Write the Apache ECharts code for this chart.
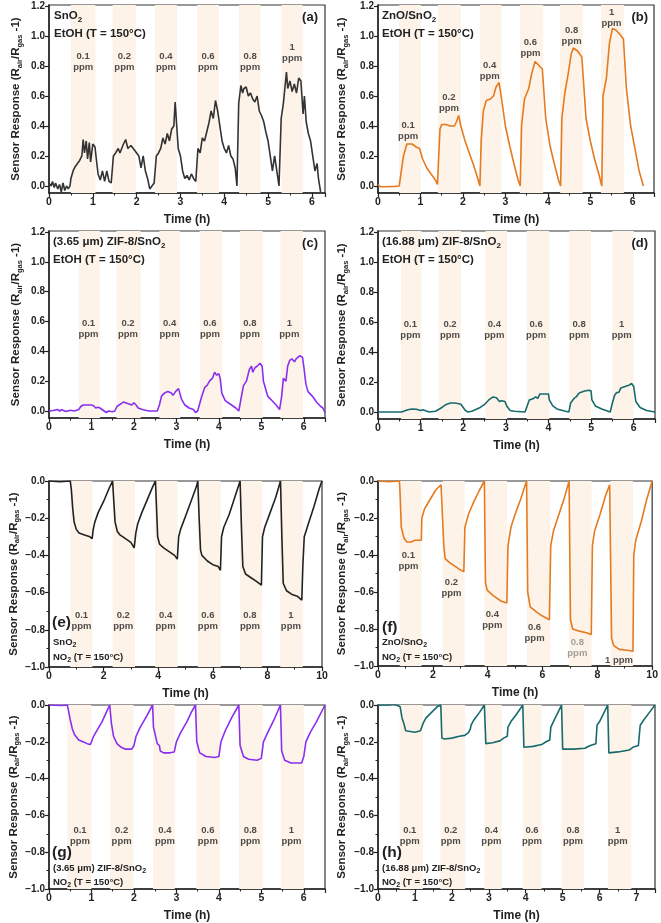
<!DOCTYPE html>
<html><head><meta charset="utf-8">
<script src="https://cdn.jsdelivr.net/npm/echarts@6/dist/echarts.min.js"></script>
<style>html,body{margin:0;padding:0;background:#fff}#c{width:661px;height:923px}</style>
</head><body><div id="c"></div>
<script>
// ---------- DATA ----------
const aData = [[0,0.02],[0.05,0.0],[0.08,0.03],[0.12,-0.01],[0.15,0.02],[0.2,-0.02],[0.24,0.01],[0.28,-0.04],[0.32,0.02],[0.36,-0.03],[0.4,0.0],[0.44,-0.02],[0.48,0.0],[0.5,0.05],[0.55,0.1],[0.6,0.13],[0.65,0.15],[0.7,0.17],[0.75,0.2],[0.78,0.31],[0.81,0.22],[0.85,0.3],[0.88,0.18],[0.92,0.29],[0.95,0.16],[1.0,0.28],[1.05,0.26],[1.08,0.18],[1.12,0.08],[1.17,0.04],[1.22,0.1],[1.27,0.03],[1.32,0.1],[1.37,0.03],[1.42,0.02],[1.47,0.2],[1.52,0.22],[1.58,0.25],[1.62,0.22],[1.7,0.28],[1.75,0.31],[1.8,0.25],[1.87,0.27],[1.95,0.24],[2.0,0.22],[2.05,0.2],[2.1,0.12],[2.15,0.2],[2.2,0.1],[2.25,0.05],[2.3,-0.02],[2.35,0.0],[2.4,0.02],[2.45,0.2],[2.5,0.22],[2.55,0.25],[2.6,0.32],[2.65,0.28],[2.7,0.35],[2.75,0.3],[2.8,0.38],[2.85,0.4],[2.88,0.56],[2.92,0.38],[2.95,0.25],[3.0,0.2],[3.05,0.1],[3.1,0.05],[3.15,0.07],[3.2,0.04],[3.25,0.08],[3.3,0.05],[3.35,0.03],[3.4,0.25],[3.45,0.22],[3.5,0.32],[3.55,0.3],[3.6,0.36],[3.65,0.42],[3.7,0.5],[3.75,0.45],[3.8,0.57],[3.85,0.5],[3.9,0.4],[3.95,0.3],[4.0,0.25],[4.05,0.22],[4.1,0.27],[4.15,0.2],[4.2,0.18],[4.25,0.12],[4.29,0.0],[4.33,0.55],[4.38,0.67],[4.42,0.62],[4.45,0.65],[4.5,0.66],[4.55,0.6],[4.6,0.62],[4.65,0.58],[4.7,0.56],[4.75,0.6],[4.8,0.5],[4.85,0.47],[4.9,0.43],[4.95,0.36],[5.0,0.3],[5.05,0.2],[5.1,0.1],[5.15,0.2],[5.2,0.1],[5.25,0.0],[5.3,0.45],[5.35,0.55],[5.42,0.76],[5.45,0.65],[5.5,0.7],[5.55,0.63],[5.6,0.68],[5.65,0.62],[5.7,0.72],[5.75,0.7],[5.8,0.48],[5.83,0.6],[5.87,0.43],[5.92,0.35],[5.97,0.3],[6.02,0.2],[6.07,0.1],[6.12,0.15],[6.15,0.05],[6.2,-0.04]];
const bData = [[0,0.01],[0.05,-0.005],[0.2,-0.005],[0.4,-0.003],[0.5,0.0],[0.55,0.1],[0.6,0.2],[0.68,0.28],[0.72,0.29],[0.8,0.28],[0.9,0.26],[0.98,0.25],[1.05,0.18],[1.15,0.12],[1.25,0.08],[1.35,0.04],[1.4,0.01],[1.43,0.2],[1.46,0.38],[1.5,0.41],[1.6,0.41],[1.7,0.4],[1.8,0.4],[1.85,0.43],[1.9,0.47],[1.95,0.4],[2.05,0.3],[2.15,0.22],[2.25,0.14],[2.35,0.05],[2.4,0.0],[2.43,0.3],[2.48,0.5],[2.55,0.57],[2.65,0.58],[2.72,0.6],[2.78,0.66],[2.85,0.69],[2.9,0.6],[3.0,0.4],[3.1,0.27],[3.2,0.15],[3.3,0.04],[3.35,0.0],[3.38,0.4],[3.45,0.58],[3.55,0.65],[3.62,0.75],[3.7,0.83],[3.8,0.8],[3.87,0.78],[3.95,0.45],[4.05,0.27],[4.15,0.15],[4.25,0.04],[4.3,0.0],[4.33,0.45],[4.4,0.62],[4.48,0.75],[4.55,0.88],[4.6,0.92],[4.7,0.9],[4.8,0.86],[4.9,0.45],[5.0,0.3],[5.1,0.18],[5.2,0.08],[5.27,0.0],[5.3,0.6],[5.38,0.72],[5.45,0.95],[5.52,1.05],[5.6,1.04],[5.7,1.01],[5.78,0.98],[5.85,0.65],[5.95,0.4],[6.05,0.25],[6.15,0.1],[6.25,0.0]];
const cData = [[0,0.0],[0.1,0.003],[0.2,0.01],[0.25,0.0],[0.3,0.008],[0.4,-0.003],[0.5,0.005],[0.6,0.0],[0.7,0.01],[0.75,0.03],[0.8,0.04],[0.9,0.04],[1.0,0.04],[1.05,0.035],[1.1,0.02],[1.15,0.025],[1.2,0.02],[1.25,0.01],[1.3,0.0],[1.35,-0.01],[1.4,0.0],[1.5,-0.005],[1.55,0.0],[1.6,0.03],[1.7,0.05],[1.75,0.06],[1.85,0.05],[1.95,0.04],[2.0,0.055],[2.05,0.04],[2.1,0.02],[2.2,0.01],[2.35,0.0],[2.55,0.0],[2.6,0.04],[2.65,0.1],[2.72,0.12],[2.8,0.13],[2.88,0.12],[2.92,0.105],[2.98,0.13],[3.05,0.15],[3.08,0.14],[3.12,0.08],[3.2,0.04],[3.3,0.02],[3.4,0.01],[3.45,-0.01],[3.5,0.0],[3.55,0.05],[3.6,0.1],[3.67,0.16],[3.72,0.17],[3.78,0.2],[3.85,0.22],[3.9,0.26],[3.95,0.24],[4.0,0.25],[4.03,0.22],[4.07,0.12],[4.15,0.07],[4.3,0.04],[4.4,0.02],[4.47,0.0],[4.52,0.08],[4.58,0.17],[4.65,0.2],[4.72,0.28],[4.77,0.3],[4.8,0.26],[4.85,0.29],[4.9,0.3],[4.97,0.32],[5.02,0.3],[5.05,0.2],[5.15,0.1],[5.25,0.07],[5.35,0.04],[5.43,0.01],[5.48,0.1],[5.52,0.22],[5.58,0.2],[5.62,0.3],[5.67,0.34],[5.72,0.35],[5.78,0.33],[5.82,0.35],[5.9,0.37],[5.97,0.36],[6.0,0.3],[6.05,0.18],[6.1,0.13],[6.2,0.1],[6.3,0.06],[6.4,0.03],[6.45,0.02],[6.5,-0.01]];
const dData = [[0,0.0],[0.3,0.0],[0.55,0.0],[0.6,0.005],[0.7,0.015],[0.8,0.02],[0.9,0.018],[1.0,0.01],[1.05,0.015],[1.1,0.01],[1.2,0.0],[1.35,0.005],[1.5,0.03],[1.6,0.05],[1.7,0.06],[1.8,0.06],[1.9,0.055],[1.95,0.05],[2.0,0.03],[2.05,0.01],[2.1,0.0],[2.2,0.005],[2.4,0.03],[2.5,0.05],[2.6,0.08],[2.7,0.1],[2.78,0.095],[2.85,0.07],[2.9,0.075],[2.98,0.07],[3.02,0.04],[3.1,0.01],[3.2,0.005],[3.45,0.0],[3.5,0.04],[3.55,0.08],[3.65,0.09],[3.7,0.1],[3.75,0.09],[3.8,0.12],[3.9,0.12],[4.0,0.12],[4.02,0.08],[4.1,0.04],[4.2,0.02],[4.4,0.005],[4.48,0.0],[4.52,0.06],[4.6,0.09],[4.65,0.1],[4.7,0.12],[4.75,0.13],[4.85,0.14],[4.95,0.145],[5.0,0.14],[5.02,0.08],[5.1,0.04],[5.25,0.02],[5.45,0.0],[5.5,0.06],[5.55,0.11],[5.6,0.13],[5.65,0.13],[5.7,0.16],[5.8,0.17],[5.9,0.18],[5.95,0.19],[6.0,0.17],[6.05,0.07],[6.15,0.03],[6.3,0.01],[6.5,0.0]];
const eData = [[0,0.0],[0.4,-0.004],[0.78,0.0],[0.82,-0.05],[0.87,-0.15],[0.92,-0.22],[1.0,-0.26],[1.1,-0.28],[1.3,-0.29],[1.5,-0.3],[1.58,-0.31],[1.62,-0.26],[1.68,-0.22],[1.8,-0.17],[2.0,-0.11],[2.2,-0.04],[2.33,0.0],[2.37,-0.1],[2.42,-0.22],[2.5,-0.27],[2.6,-0.29],[2.8,-0.31],[3.0,-0.33],[3.12,-0.36],[3.18,-0.28],[3.25,-0.23],[3.4,-0.17],[3.6,-0.1],[3.8,-0.03],[3.9,0.0],[3.94,-0.15],[3.98,-0.3],[4.05,-0.34],[4.2,-0.36],[4.4,-0.38],[4.6,-0.4],[4.7,-0.42],[4.75,-0.3],[4.82,-0.26],[5.0,-0.19],[5.2,-0.11],[5.4,-0.03],[5.45,0.0],[5.5,-0.2],[5.55,-0.37],[5.6,-0.4],[5.8,-0.43],[6.0,-0.45],[6.2,-0.46],[6.28,-0.48],[6.32,-0.3],[6.4,-0.25],[6.6,-0.18],[6.8,-0.09],[7.0,0.0],[7.05,-0.25],[7.1,-0.46],[7.2,-0.5],[7.4,-0.52],[7.6,-0.54],[7.78,-0.56],[7.82,-0.3],[7.9,-0.25],[8.1,-0.17],[8.3,-0.09],[8.48,0.0],[8.53,-0.3],[8.58,-0.55],[8.7,-0.59],[8.9,-0.61],[9.1,-0.62],[9.26,-0.64],[9.3,-0.45],[9.35,-0.3],[9.5,-0.23],[9.7,-0.14],[9.9,-0.04],[10.0,0.0]];
const fData = [[0,0.0],[0.4,-0.004],[0.78,0.0],[0.8,-0.05],[0.85,-0.25],[0.95,-0.31],[1.05,-0.33],[1.2,-0.33],[1.35,-0.32],[1.58,-0.32],[1.6,-0.2],[1.7,-0.15],[1.9,-0.1],[2.1,-0.05],[2.3,-0.02],[2.36,-0.01],[2.4,-0.35],[2.45,-0.42],[2.6,-0.44],[2.8,-0.46],[3.0,-0.48],[3.13,-0.49],[3.17,-0.25],[3.3,-0.18],[3.5,-0.11],[3.7,-0.05],[3.88,0.0],[3.92,-0.55],[3.98,-0.59],[4.2,-0.62],[4.5,-0.65],[4.7,-0.66],[4.74,-0.35],[4.85,-0.25],[5.0,-0.18],[5.2,-0.1],[5.42,0.0],[5.46,-0.6],[5.55,-0.68],[5.8,-0.71],[6.0,-0.73],[6.25,-0.75],[6.3,-0.35],[6.4,-0.27],[6.6,-0.18],[6.8,-0.09],[6.97,0.0],[7.02,-0.75],[7.1,-0.8],[7.3,-0.81],[7.6,-0.82],[7.78,-0.83],[7.82,-0.35],[7.9,-0.27],[8.1,-0.18],[8.3,-0.08],[8.45,-0.02],[8.5,-0.01],[8.52,-0.85],[8.6,-0.89],[8.8,-0.91],[9.1,-0.915],[9.3,-0.92],[9.33,-0.4],[9.4,-0.32],[9.6,-0.22],[9.8,-0.1],[10.0,0.0]];
const gData = [[0,0.0],[0.3,-0.003],[0.43,0.0],[0.45,-0.02],[0.5,-0.08],[0.55,-0.13],[0.6,-0.16],[0.7,-0.19],[0.8,-0.2],[0.9,-0.21],[0.97,-0.215],[1.0,-0.2],[1.05,-0.17],[1.15,-0.13],[1.25,-0.09],[1.35,-0.04],[1.43,0.0],[1.47,-0.1],[1.52,-0.17],[1.6,-0.21],[1.7,-0.23],[1.8,-0.24],[1.95,-0.24],[2.0,-0.22],[2.05,-0.17],[2.15,-0.12],[2.3,-0.06],[2.44,0.0],[2.46,-0.12],[2.52,-0.18],[2.55,-0.21],[2.6,-0.22],[2.62,-0.25],[2.7,-0.26],[2.85,-0.26],[2.95,-0.255],[3.0,-0.2],[3.1,-0.15],[3.25,-0.09],[3.35,-0.04],[3.45,0.0],[3.48,-0.2],[3.55,-0.26],[3.7,-0.28],[3.9,-0.285],[4.0,-0.28],[4.05,-0.2],[4.15,-0.14],[4.3,-0.07],[4.47,0.0],[4.5,-0.22],[4.58,-0.28],[4.7,-0.295],[4.9,-0.3],[5.0,-0.29],[5.05,-0.2],[5.15,-0.15],[5.3,-0.08],[5.45,0.0],[5.48,-0.25],[5.55,-0.3],[5.7,-0.315],[5.95,-0.315],[6.0,-0.28],[6.05,-0.2],[6.15,-0.15],[6.3,-0.09],[6.5,0.0]];
const hData = [[0,0.0],[0.3,0.0],[0.4,0.005],[0.5,0.0],[0.6,-0.01],[0.65,-0.07],[0.7,-0.1],[0.75,-0.14],[0.8,-0.15],[1.0,-0.148],[1.15,-0.14],[1.2,-0.13],[1.22,-0.1],[1.3,-0.07],[1.45,-0.04],[1.6,-0.01],[1.7,0.0],[1.73,-0.18],[1.8,-0.185],[2.0,-0.18],[2.2,-0.17],[2.35,-0.165],[2.45,-0.15],[2.5,-0.13],[2.52,-0.11],[2.6,-0.08],[2.75,-0.04],[2.88,0.0],[2.92,-0.21],[3.1,-0.205],[3.3,-0.195],[3.4,-0.18],[3.5,-0.17],[3.52,-0.12],[3.6,-0.09],[3.75,-0.05],[3.92,0.0],[3.95,-0.23],[4.2,-0.225],[4.43,-0.215],[4.55,-0.2],[4.65,-0.19],[4.68,-0.12],[4.75,-0.09],[4.85,-0.05],[4.97,0.0],[5.0,-0.24],[5.3,-0.24],[5.6,-0.235],[5.75,-0.22],[5.9,-0.21],[5.93,-0.11],[6.0,-0.09],[6.1,-0.05],[6.22,0.0],[6.25,-0.26],[6.5,-0.255],[6.8,-0.245],[6.9,-0.23],[7.05,-0.22],[7.1,-0.11],[7.2,-0.08],[7.35,-0.04],[7.5,0.0]];

// gas-exposure bands (start, end in h)
const aBands = [[0.5,1.06],[1.45,1.98],[2.42,2.92],[3.38,3.88],[4.34,4.83],[5.31,5.79]];
const bBands = [[0.5,1.01],[1.41,1.95],[2.4,2.91],[3.34,3.89],[4.29,4.82],[5.25,5.79]];
const cBands = [[0.7,1.2],[1.59,2.16],[2.6,3.09],[3.55,4.08],[4.5,5.03],[5.45,5.98]];
const dBands = [[0.54,1.02],[1.42,1.95],[2.52,3.03],[3.49,4.02],[4.49,5.0],[5.5,6.0]];
const eBands = [[0.78,1.59],[2.33,3.15],[3.89,4.71],[5.45,6.29],[7.0,7.8],[8.47,9.29]];
const fBands = [[0.79,1.59],[2.36,3.16],[3.89,4.71],[5.43,6.28],[6.97,7.79],[8.48,9.3]];
const gBands = [[0.43,1.0],[1.44,1.99],[2.45,2.96],[3.47,4.03],[4.48,5.03],[5.46,6.0]];
const hBands = [[0.585,1.215],[1.69,2.36],[2.88,3.35],[3.92,4.43],[4.97,5.58],[6.23,6.86]];

// concentration labels: text, and where they sit (x in h, y in response units)
const concText = ['0.1\nppm','0.2\nppm','0.4\nppm','0.6\nppm','0.8\nppm','1\nppm'];
const fConcText = ['0.1\nppm','0.2\nppm','0.4\nppm','0.6\nppm','0.8\nppm','1 ppm'];
const aLabX = [0.78,1.72,2.67,3.63,4.59,5.55], aLabY = [0.83,0.83,0.83,0.83,0.83,0.885];
const bLabX = [0.71,1.67,2.63,3.59,4.56,5.5],  bLabY = [0.37,0.555,0.77,0.92,1.0,1.12];
const cLabX = [0.93,1.86,2.84,3.79,4.73,5.66], cLabY = [0.55,0.55,0.55,0.55,0.55,0.55];
const dLabX = [0.76,1.69,2.73,3.71,4.72,5.72], dLabY = [0.55,0.55,0.55,0.55,0.55,0.55];
const eLabX = [1.19,2.72,4.27,5.82,7.36,8.86], eLabY = [-0.75,-0.75,-0.75,-0.75,-0.75,-0.75];
const fLabX = [1.11,2.68,4.17,5.71,7.27,8.79], fLabY = [-0.43,-0.58,-0.75,-0.82,-0.9,-0.967];
const gLabX = [0.73,1.71,2.73,3.74,4.74,5.71], gLabY = [-0.71,-0.71,-0.71,-0.71,-0.71,-0.71];
const hLabX = [0.86,1.97,3.07,4.17,5.28,6.49], hLabY = [-0.71,-0.71,-0.71,-0.71,-0.71,-0.71];

const posTicks = [0,0.2,0.4,0.6,0.8,1.0,1.2];

// ---------- CHART ----------
const F = '"Liberation Sans", Arial, sans-serif';
const ORANGE = '#e67a1e', PURPLE = '#8a2ff0', TEAL = '#176a6c';
const panels = [
  {rect:[49,5,276,188],   xMax:6.3, xInt:1, pos:true,  data:aData, color:'#333', bands:aBands, lx:aLabX, ly:aLabY, txt:concText},
  {rect:[378,5,276,188],  xMax:6.5, xInt:1, pos:true,  data:bData, color:ORANGE, bands:bBands, lx:bLabX, ly:bLabY, txt:concText},
  {rect:[49,231,276,187], xMax:6.5, xInt:1, pos:true,  data:cData, color:PURPLE, bands:cBands, lx:cLabX, ly:cLabY, txt:concText},
  {rect:[378,231,277,188],xMax:6.5, xInt:1, pos:true,  data:dData, color:TEAL, bands:dBands, lx:dLabX, ly:dLabY, txt:concText},
  {rect:[49,481,273,186], xMax:10, xInt:2, pos:false, data:eData, color:'#222', bands:eBands, lx:eLabX, ly:eLabY, txt:concText},
  {rect:[378,481,276,185],xMax:10, xInt:2, pos:false, data:fData, color:ORANGE, bands:fBands, lx:fLabX, ly:fLabY, txt:fConcText},
  {rect:[49,705,276,184], xMax:6.5, xInt:1, pos:false, data:gData, color:PURPLE, bands:gBands, lx:gLabX, ly:gLabY, txt:concText},
  {rect:[378,705,277,184],xMax:7.5, xInt:1, pos:false, data:hData, color:TEAL, bands:hBands, lx:hLabX, ly:hLabY, txt:concText}
];

const fmtY = v => (Math.abs(v) < 1e-9 ? '0.0' : v.toFixed(1).replace('-', '\u2212'));
const grid = [], xAxis = [], yAxis = [], series = [];
panels.forEach((p, i) => {
  grid.push({left:p.rect[0], top:p.rect[1], width:p.rect[2], height:p.rect[3], show:true, borderColor:'#333', borderWidth:1.2, containLabel:false});
  xAxis.push({
    type:'value', gridIndex:i, min:0, max:p.xMax, interval:p.xInt,
    name:'Time (h)', nameLocation:'middle', nameGap:21,
    nameTextStyle:{fontFamily:F, fontWeight:'bold', fontSize:12, color:'#222'},
    axisLine:{onZero:false, lineStyle:{color:'#222', width:1.5}},
    axisTick:{inside:false, length:4, lineStyle:{color:'#222', width:1.2}},
    minorTick:{show:true, splitNumber:2, length:2.5, lineStyle:{color:'#222'}},
    axisLabel:{fontFamily:F, fontWeight:'bold', fontSize:10.5, color:'#222', margin:4, showMaxLabel:(p.xMax % p.xInt === 0)},
    splitLine:{show:false}
  });
  const y = {
    type:'value', gridIndex:i,
    name:'{n|Sensor Response (R}{s|air}{n|/R}{s|gas}{n| -1)}',
    nameLocation:'middle', nameRotate:90, nameGap: i % 2 === 0 ? 25 : 28,
    nameTextStyle:{rich:{
      n:{fontFamily:F, fontWeight:'bold', fontSize:11.5, color:'#222', lineHeight:16},
      s:{fontFamily:F, fontWeight:'bold', fontSize:7.5, color:'#222', lineHeight:9, verticalAlign:'bottom'}
    }},
    axisLine:{onZero:false, lineStyle:{color:'#222', width:1.5}},
    axisTick:{inside:false, length:4, lineStyle:{color:'#222', width:1.2}},
    axisLabel:{fontFamily:F, fontWeight:'bold', fontSize:10, color:'#222', margin:4, formatter:fmtY},
    splitLine:{show:false}
  };
  if (p.pos) {
    Object.assign(y, {min:-0.047, max:1.207});
    y.axisLabel.customValues = posTicks;
    y.axisTick.customValues = posTicks;
  } else {
    Object.assign(y, {min:-1, max:0, interval:0.2});
    y.minorTick = {show:true, splitNumber:2, length:2.5, lineStyle:{color:'#222'}};
  }
  yAxis.push(y);
  series.push({
    type:'line', xAxisIndex:i, yAxisIndex:i, data:p.data, showSymbol:false, symbol:'none',
    lineStyle:{color:p.color, width:1.6}, itemStyle:{color:p.color}, z:3, animation:false,
    markArea:{silent:true, itemStyle:{color:'#fdf3e8'}, data:p.bands.map(b => [{xAxis:b[0]},{xAxis:b[1]}])}
  });
  series.push({
    type:'scatter', xAxisIndex:i, yAxisIndex:i, symbolSize:0, silent:true, animation:false, z:4,
    data:p.lx.map((x, k) => ({value:[x, p.ly[k]], name:p.txt[k],
      label:{color:(i === 5 && k === 4) ? '#888' : '#222'}})),
    label:{show:true, position:'inside', formatter:q => q.name, fontFamily:F, fontWeight:'bold', fontSize:9.5, lineHeight:11, color:'#222', align:'center', verticalAlign:'middle'}
  });
});

// panel annotations
const R = {
  n:{fontFamily:F, fontWeight:'bold', fontSize:11.5, fill:'#222', lineHeight:15},
  s:{fontFamily:F, fontWeight:'bold', fontSize:8, fill:'#222', lineHeight:9, verticalAlign:'bottom'},
  m:{fontFamily:F, fontWeight:'bold', fontSize:9.5, fill:'#222', lineHeight:13},
  ms:{fontFamily:F, fontWeight:'bold', fontSize:7, fill:'#222', lineHeight:8, verticalAlign:'bottom'},
  L:{fontFamily:F, fontWeight:'bold', fontSize:15.5, fill:'#222', lineHeight:18},
  P:{fontFamily:F, fontWeight:'bold', fontSize:13, fill:'#222', lineHeight:16}
};
function T(x, y, text, alignRight) {
  return {type:'text', left: alignRight ? undefined : x, right: alignRight ? x : undefined, top:y, z:10,
    style:{text:text, rich:R}};
}
const graphic = [
  T(54, 10, '{n|SnO}{s|2}'), T(54, 28, '{n|EtOH (T = 150°C)}'), T(343, 11, '{P|(a)}', true),
  T(382, 10, '{n|ZnO/SnO}{s|2}'), T(382, 28, '{n|EtOH (T = 150°C)}'), T(13, 11, '{P|(b)}', true),
  T(53, 236, '{n|(3.65 μm) ZIF-8/SnO}{s|2}'), T(53, 254, '{n|EtOH (T = 150°C)}'), T(343, 237, '{P|(c)}', true),
  T(382, 236, '{n|(16.88 μm) ZIF-8/SnO}{s|2}'), T(382, 254, '{n|EtOH (T = 150°C)}'), T(13, 237, '{P|(d)}', true),
  T(52, 615, '{L|(e)}'), T(53, 637, '{m|SnO}{ms|2}'), T(53, 652, '{m|NO}{ms|2}{m| (T = 150°C)}'),
  T(382, 620, '{L|(f)}'), T(382, 637, '{m|ZnO/SnO}{ms|2}'), T(382, 652, '{m|NO}{ms|2}{m| (T = 150°C)}'),
  T(52, 845, '{L|(g)}'), T(53, 863, '{m|(3.65 μm) ZIF-8/SnO}{ms|2}'), T(53, 877, '{m|NO}{ms|2}{m| (T = 150°C)}'),
  T(382, 845, '{L|(h)}'), T(382, 863, '{m|(16.88 μm) ZIF-8/SnO}{ms|2}'), T(382, 877, '{m|NO}{ms|2}{m| (T = 150°C)}')
];

const chart = echarts.init(document.getElementById('c'), null, {renderer:'canvas'});
chart.setOption({animation:false, backgroundColor:'#fff', grid, xAxis, yAxis, series, graphic});
</script></body></html>
